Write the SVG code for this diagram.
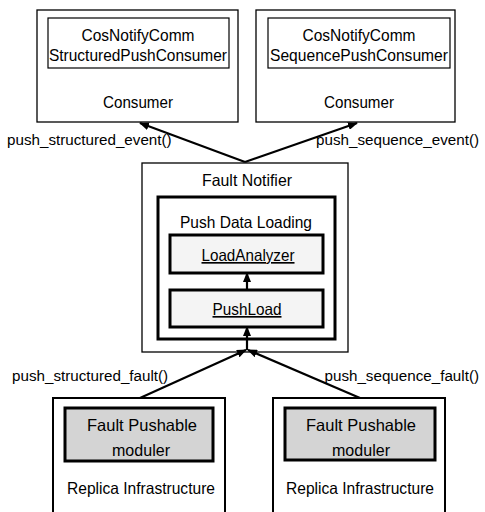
<svg xmlns="http://www.w3.org/2000/svg" width="485" height="512" viewBox="0 0 485 512">
<style>
text{font-family:"Liberation Sans",Arial,sans-serif;font-size:16.5px;fill:#000;text-anchor:middle}
.lbl{text-anchor:start;font-size:15.2px}
.lblr{text-anchor:end;font-size:15.2px}
.thin{fill:#fff;stroke:#000;stroke-width:1.3}
.inner{fill:#fff;stroke:#000;stroke-width:1.2}
.thick{fill:#fff;stroke:#000;stroke-width:3}
.soft{fill:#f4f4f4;stroke:#000;stroke-width:3}
.gray{fill:#d4d4d4;stroke:#000;stroke-width:3}
.edge{stroke:#000;stroke-width:2.2;fill:none}
</style>
<defs>
<marker id="ah" markerWidth="10" markerHeight="8" refX="9" refY="4" orient="auto" markerUnits="userSpaceOnUse">
<path d="M0,0 L10,4 L0,8 Z" fill="#000"/>
</marker>
</defs>
<rect width="485" height="512" fill="#fff"/>

<g id="consumer-structured">
<rect class="thin" x="37" y="10" width="201" height="112"/>
<rect class="inner" x="48" y="18" width="181" height="50"/>
<text x="138" y="41" textLength="113" lengthAdjust="spacingAndGlyphs">CosNotifyComm</text>
<text x="138" y="61" textLength="178" lengthAdjust="spacingAndGlyphs">StructuredPushConsumer</text>
<text x="138" y="108" textLength="70" lengthAdjust="spacingAndGlyphs">Consumer</text>
</g>

<g id="consumer-sequence">
<rect class="thin" x="256" y="10" width="199" height="112"/>
<rect class="inner" x="268" y="18" width="182" height="50"/>
<text x="359" y="41" textLength="113" lengthAdjust="spacingAndGlyphs">CosNotifyComm</text>
<text x="359" y="61" textLength="178" lengthAdjust="spacingAndGlyphs">SequencePushConsumer</text>
<text x="359" y="108" textLength="70" lengthAdjust="spacingAndGlyphs">Consumer</text>
</g>

<g id="fault-notifier">
<rect class="thin" x="142" y="163" width="206" height="189"/>
<text x="247" y="186" textLength="90" lengthAdjust="spacingAndGlyphs">Fault Notifier</text>
</g>

<g id="push-data-loading">
<rect class="thick" x="158" y="197" width="177" height="142"/>
<text x="246" y="228" textLength="132" lengthAdjust="spacingAndGlyphs">Push Data Loading</text>
</g>

<g id="load-analyzer">
<rect class="soft" x="170" y="235" width="153" height="38"/>
<text x="248" y="261" text-decoration="underline" textLength="93" lengthAdjust="spacingAndGlyphs">LoadAnalyzer</text>
</g>

<g id="push-load">
<rect class="soft" x="170" y="290" width="153" height="37"/>
<text x="247" y="315" text-decoration="underline" textLength="69" lengthAdjust="spacingAndGlyphs">PushLoad</text>
</g>

<g id="replica-left">
<path class="thin" d="M53,512 V398 H225 V512" style="stroke-width:2"/>
<rect class="gray" x="65" y="408" width="148" height="53"/>
<text x="142" y="431" textLength="110" lengthAdjust="spacingAndGlyphs">Fault Pushable</text>
<text x="141" y="456" textLength="58" lengthAdjust="spacingAndGlyphs">moduler</text>
<text x="141" y="494" textLength="148" lengthAdjust="spacingAndGlyphs">Replica Infrastructure</text>
</g>

<g id="replica-right">
<path class="thin" d="M273,512 V398 H445 V512" style="stroke-width:2"/>
<rect class="gray" x="285" y="408" width="150" height="52"/>
<text x="361" y="431" textLength="110" lengthAdjust="spacingAndGlyphs">Fault Pushable</text>
<text x="361" y="456" textLength="58" lengthAdjust="spacingAndGlyphs">moduler</text>
<text x="360" y="494" textLength="148" lengthAdjust="spacingAndGlyphs">Replica Infrastructure</text>
</g>

<g id="connectors">
<line class="edge" x1="245" y1="162" x2="140" y2="123" marker-end="url(#ah)"/>
<line class="edge" x1="245" y1="162" x2="357" y2="123" marker-end="url(#ah)"/>
<line class="edge" x1="247" y1="290" x2="247" y2="273" marker-end="url(#ah)"/>
<line class="edge" x1="247" y1="350" x2="247" y2="327" marker-end="url(#ah)"/>
<line class="edge" x1="140" y1="398" x2="246" y2="350" marker-end="url(#ah)"/>
<line class="edge" x1="360" y1="398" x2="248" y2="350" marker-end="url(#ah)"/>
<text class="lbl" x="7" y="145">push_structured_event()</text>
<text class="lblr" x="479" y="145">push_sequence_event()</text>
<text class="lbl" x="12" y="381">push_structured_fault()</text>
<text class="lblr" x="479" y="381">push_sequence_fault()</text>
</g>
</svg>
